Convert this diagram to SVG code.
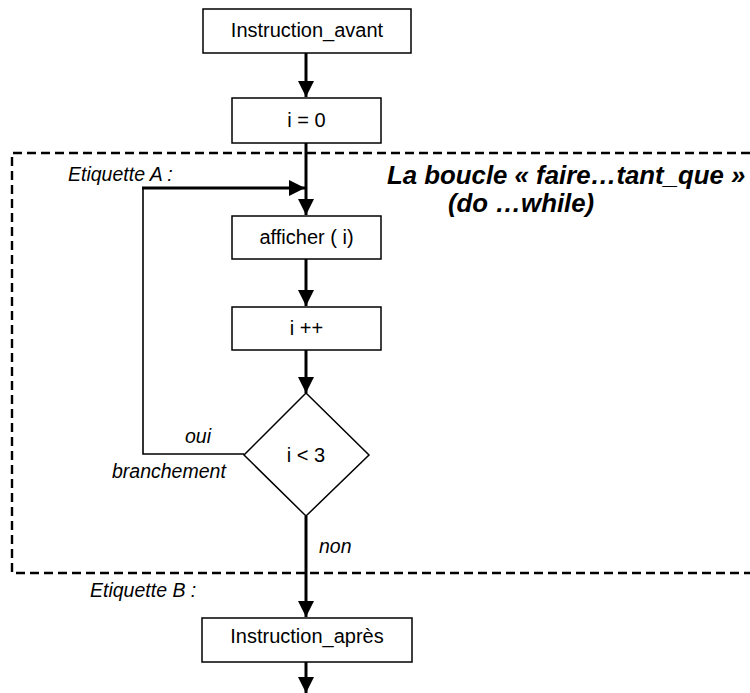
<svg xmlns="http://www.w3.org/2000/svg" width="750" height="693" viewBox="0 0 750 693">
<style>
.box{fill:#fff;stroke:#000;stroke-width:1.5}
.t{font-family:"Liberation Sans",Arial,sans-serif;font-size:20px;fill:#000}
.it{font-family:"Liberation Sans",Arial,sans-serif;font-size:19.5px;font-style:italic;fill:#000}
.title{font-family:"Liberation Sans",Arial,sans-serif;font-size:25.8px;font-style:italic;font-weight:bold;fill:#000}
.thick{fill:none;stroke:#000;stroke-width:3}
.thin{fill:none;stroke:#000;stroke-width:1.6}
.dash{fill:none;stroke:#000;stroke-width:2.4;stroke-dasharray:9 5}
</style>
<defs>
<marker id="ah" markerUnits="userSpaceOnUse" markerWidth="16" markerHeight="16" viewBox="0 0 14 14" refX="14" refY="7" orient="auto">
<path d="M0,0 L14,7 L0,14 Z" fill="#000"/>
</marker>
</defs>
<g id="frame">
<path class="dash" d="M750,153 H12 V573 H750"/>
</g>
<g id="connectors">
<line class="thick" x1="306" y1="53" x2="306" y2="97" marker-end="url(#ah)"/>
<line class="thick" x1="306" y1="143" x2="306" y2="215" marker-end="url(#ah)"/>
<line class="thick" x1="306" y1="259" x2="306" y2="306" marker-end="url(#ah)"/>
<line class="thick" x1="306" y1="350" x2="306" y2="393" marker-end="url(#ah)"/>
<line class="thick" x1="306" y1="516" x2="306" y2="617" marker-end="url(#ah)"/>
<line class="thick" x1="306" y1="662" x2="306" y2="693" marker-end="url(#ah)"/>
<polyline class="thin" points="244,454 143,454 143,188"/>
<line class="thick" x1="142" y1="188" x2="305" y2="188" marker-end="url(#ah)"/>
</g>
<g id="n_avant">
<rect class="box" x="203" y="9" width="208" height="44"/>
<text class="t" x="307" y="37" text-anchor="middle">Instruction_avant</text>
</g>
<g id="n_init">
<rect class="box" x="232" y="98" width="149" height="45"/>
<text class="t" x="306.5" y="127" text-anchor="middle">i = 0</text>
</g>
<g id="n_afficher">
<rect class="box" x="232" y="216" width="149" height="43"/>
<text class="t" x="306.5" y="244" text-anchor="middle">afficher ( i)</text>
</g>
<g id="n_incr">
<rect class="box" x="232" y="307" width="149" height="43"/>
<text class="t" x="306.5" y="335" text-anchor="middle">i ++</text>
</g>
<g id="n_cond">
<polygon class="box" points="306,393 369,455 306,516 244,455"/>
<text class="t" x="306" y="462" text-anchor="middle">i &lt; 3</text>
</g>
<g id="n_apres">
<rect class="box" x="202" y="618" width="210" height="44"/>
<text class="t" x="307" y="643" text-anchor="middle">Instruction_après</text>
</g>
<g id="labels">
<text class="it" x="68" y="181">Etiquette A :</text>
<text class="it" x="185" y="443">oui</text>
<text class="it" x="112" y="478">branchement</text>
<text class="it" x="319" y="553">non</text>
<text class="it" x="90" y="597">Etiquette B :</text>
<text class="title" x="387" y="184">La boucle « faire…tant_que »</text>
<text class="title" x="448" y="212">(do …while)</text>
</g>
</svg>
